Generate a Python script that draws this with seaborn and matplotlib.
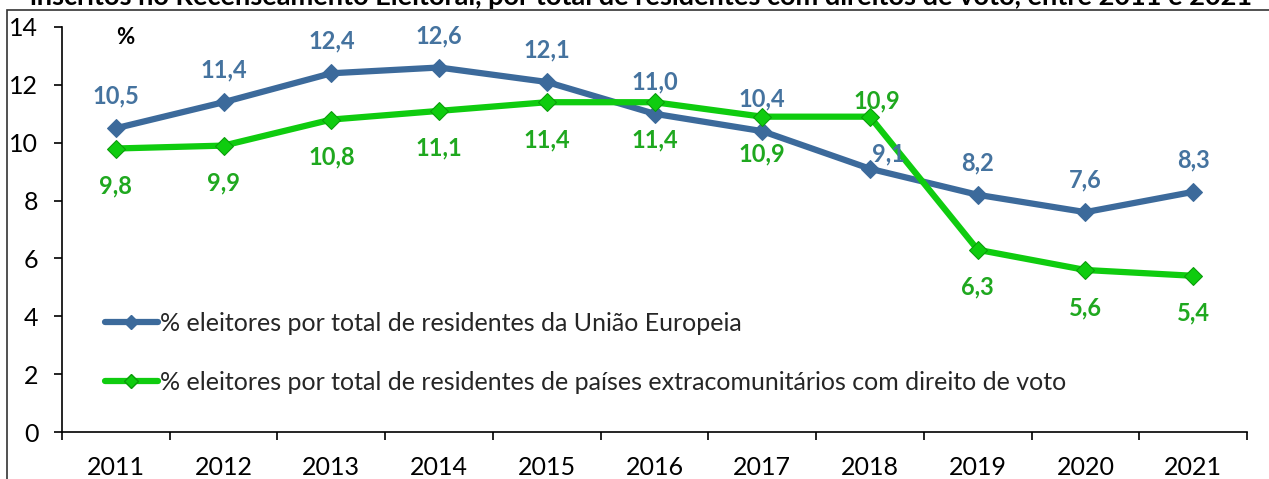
import matplotlib
matplotlib.use("Agg")
import matplotlib.pyplot as plt
from matplotlib.patches import Rectangle
from matplotlib.lines import Line2D
import seaborn as sns
import pandas as pd

# Data
years = [2011, 2012, 2013, 2014, 2015, 2016, 2017, 2018, 2019, 2020, 2021]
eu_pct = [10.5, 11.4, 12.4, 12.6, 12.1, 11.0, 10.4, 9.1, 8.2, 7.6, 8.3]
extra_pct = [9.8, 9.9, 10.8, 11.1, 11.4, 11.4, 10.9, 10.9, 6.3, 5.6, 5.4]
y_ticks = [0, 2, 4, 6, 8, 10, 12, 14]
label_eu = "% eleitores por total de residentes da União Europeia"
label_extra = "% eleitores por total de residentes de países extracomunitários com direito de voto"
title = ("inscritos no Recenseamento Eleitoral, por total de residentes com "
         "direitos de voto, entre 2011 e 2021")

BLUE = "#3C6A9B"
BLUE_TXT = "#45739F"
GREEN = "#0FCC0F"
GREEN_TXT = "#1FA81F"

sns.set_theme(style="white")
plt.rcParams["font.family"] = ["Lato", "DejaVu Sans"]

W, H = 1269, 479
fig = plt.figure(figsize=(W / 100, H / 100), dpi=100)
ax = fig.add_axes([62 / W, 1 - 432 / H, (1247 - 62) / W, (432 - 27) / H])

df = pd.DataFrame({"ano": years, "ue": eu_pct, "extra": extra_pct})

sns.lineplot(data=df, x="ano", y="ue", ax=ax, color=BLUE, linewidth=4.5,
             marker="D", markersize=9, markeredgecolor=BLUE, label=label_eu)
sns.lineplot(data=df, x="ano", y="extra", ax=ax, color=GREEN, linewidth=4.5,
             marker="D", markersize=9, markeredgecolor="#0A9A0A", label=label_extra)

# Value labels: EU above the points, extra-EU below (2018 both placed above)
for yr, v in zip(years, eu_pct):
    dx, dy = (13, 11) if yr == 2018 else (0, 23)
    ax.annotate(f"{v:.1f}".replace(".", ","), (yr, v), xytext=(dx, dy),
                textcoords="offset points", ha="center", va="center",
                fontsize=17, fontweight="bold", color=BLUE_TXT)
for yr, v in zip(years, extra_pct):
    dx, dy = (5, 11) if yr == 2018 else (0, -27)
    ax.annotate(f"{v:.1f}".replace(".", ","), (yr, v), xytext=(dx, dy),
                textcoords="offset points", ha="center", va="center",
                fontsize=17, fontweight="bold", color=GREEN_TXT)

# Axes styling
ax.set_xlim(years[0] - 0.5, years[-1] + 0.5)
ax.set_ylim(0, 14)
ax.set_yticks(y_ticks)
ax.set_yticklabels([str(t) for t in y_ticks])
ax.set_xticks(years)
ax.set_xticklabels([str(y) for y in years])
ax.set_xticks([y - 0.5 for y in years] + [years[-1] + 0.5], minor=True)
ax.set_xlabel("")
ax.set_ylabel("")
for side in ("top", "right"):
    ax.spines[side].set_visible(False)
for side in ("left", "bottom"):
    ax.spines[side].set_color("black")
    ax.spines[side].set_linewidth(1.2)
ax.tick_params(axis="y", which="major", direction="out", length=6, width=1.2,
               color="black", left=True, pad=11, labelsize=18, labelcolor="black")
ax.tick_params(axis="x", which="major", length=0, pad=17, labelsize=18,
               labelcolor="black", bottom=True)
ax.tick_params(axis="x", which="minor", direction="out", length=6, width=1.2,
               color="black", bottom=True)
ax.grid(False)

ax.text((125 - 62) / (1247 - 62), (432 - 38) / (432 - 27), "%",
        transform=ax.transAxes, ha="center", va="center",
        fontsize=16, fontweight="bold", color="black")

# Legend
handles = [
    Line2D([], [], color=BLUE, lw=4.5, marker="D", markersize=7, markeredgecolor=BLUE),
    Line2D([], [], color=GREEN, lw=4.5, marker="D", markersize=7, markeredgecolor="#0A9A0A"),
]
ax.legend(handles, [label_eu, label_extra], loc="upper left",
          bbox_to_anchor=((105 - 62) / (1247 - 62), (432 - 312) / (432 - 27)),
          frameon=False, fontsize=18, handlelength=2.1, handletextpad=0.08,
          labelspacing=1.43, borderpad=0, borderaxespad=0)

# Title (upper portion falls outside the canvas)
fig.text(641 / W, 1 - 5 / H, title, ha="center", va="baseline",
         fontsize=19.5, fontweight="bold", color="black")

# Outer frame
fig.add_artist(Rectangle((7 / W, -0.05), 1.1, 1.05 - 10 / H, transform=fig.transFigure,
                         fill=False, edgecolor="#333333", linewidth=1.2))

fig.savefig("out.png", dpi=100)
